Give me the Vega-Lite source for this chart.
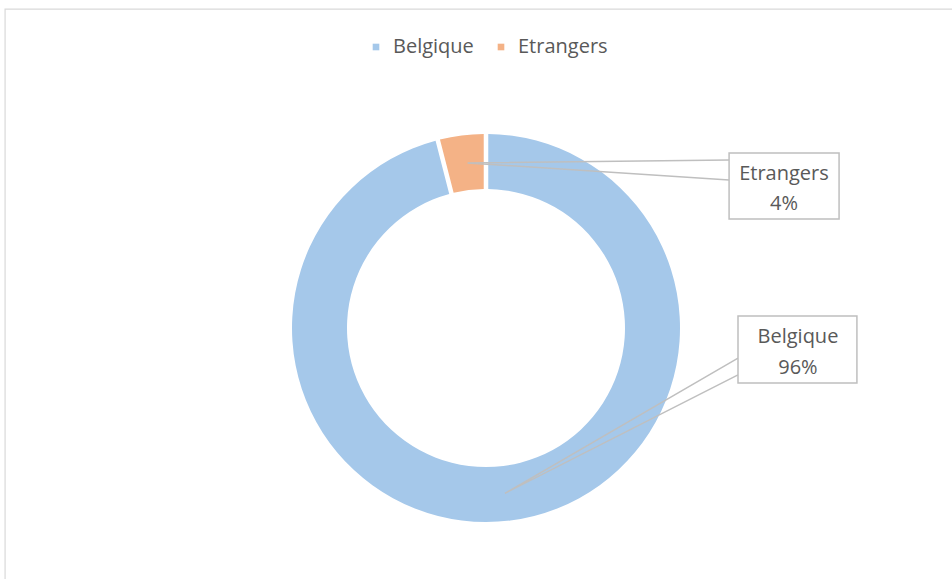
{
  "$schema": "https://vega.github.io/schema/vega-lite/v6.json",
  "width": 952,
  "height": 579,
  "autosize": "none",
  "padding": 0,
  "background": "white",
  "config": {"view": {"stroke": null}, "font": "Open Sans"},
  "datasets": {
    "shares": [
      {"category": "Belgique", "value": 96},
      {"category": "Etrangers", "value": 4}
    ],
    "callouts": [
      {"category": "Etrangers", "pct": "4%", "px": -9.5, "py": 85.1, "bx1": 125.3, "bx2": 182.0, "by1": 90.2, "by2": 56.2, "ey1": 86.6, "ey2": 76.3, "tx": 153.6, "ty1": 76.3, "ty2": 60.8},
      {"category": "Belgique", "pct": "96%", "px": 9.8, "py": -85.2, "bx1": 129.9, "bx2": 191.2, "by1": 6.2, "by2": -28.4, "ey1": -15.5, "ey2": -24.2, "tx": 160.8, "ty1": -7.7, "ty2": -23.7}
    ],
    "wedges": [
      {"category": "Etrangers", "order": 0, "x": 125.3, "y": 86.6},
      {"category": "Etrangers", "order": 1, "x": -9.5, "y": 85.1},
      {"category": "Etrangers", "order": 2, "x": 125.3, "y": 76.3},
      {"category": "Belgique", "order": 0, "x": 129.9, "y": -15.5},
      {"category": "Belgique", "order": 1, "x": 9.8, "y": -85.2},
      {"category": "Belgique", "order": 2, "x": 129.9, "y": -24.2}
    ]
  },
  "layer": [
    {
      "data": {"values": [{"x": -247.9, "x2": 300, "y": 164.4, "y2": -200}]},
      "mark": {"type": "rect", "fill": null, "stroke": "#D9D9D9", "strokeWidth": 1.2, "clip": true},
      "encoding": {
        "x": {"field": "x", "type": "quantitative", "scale": {"domain": [-250.52, 240.21], "nice": false, "zero": false}, "axis": null},
        "x2": {"field": "x2"},
        "y": {"field": "y", "type": "quantitative", "scale": {"domain": [-129.38, 169.07], "nice": false, "zero": false}, "axis": null},
        "y2": {"field": "y2"}
      }
    },
    {
      "data": {"name": "shares"},
      "mark": {"type": "arc", "outerRadius": 194, "innerRadius": 139, "padAngle": 0.019},
      "encoding": {
        "x": {"datum": 0, "type": "quantitative"},
        "y": {"datum": 0, "type": "quantitative"},
        "theta": {"field": "value", "type": "quantitative", "stack": true},
        "color": {
          "field": "category", "type": "nominal",
          "scale": {"domain": ["Belgique", "Etrangers"], "range": ["#A5C8EA", "#F4B286"]},
          "legend": {
            "orient": "none", "legendX": 366, "legendY": 37, "direction": "horizontal",
            "title": null, "symbolType": "square", "symbolSize": 44, "symbolStrokeWidth": 0,
            "labelFont": "Open Sans", "labelFontSize": 20, "labelColor": "#595959",
            "labelOffset": 7, "columnPadding": 17
          }
        },
        "order": {"field": "category"}
      }
    },
    {
      "data": {"name": "wedges"},
      "mark": {"type": "line", "stroke": "#BFBFBF", "strokeWidth": 1.5},
      "encoding": {
        "x": {"field": "x", "type": "quantitative"},
        "y": {"field": "y", "type": "quantitative"},
        "detail": {"field": "category"},
        "order": {"field": "order"}
      }
    },
    {
      "data": {"name": "callouts"},
      "mark": {"type": "rect", "fill": "white", "stroke": "#BFBFBF", "strokeWidth": 1.5},
      "encoding": {
        "x": {"field": "bx1", "type": "quantitative"},
        "x2": {"field": "bx2"},
        "y": {"field": "by1", "type": "quantitative"},
        "y2": {"field": "by2"}
      }
    },
    {
      "data": {"name": "callouts"},
      "mark": {"type": "text", "font": "Open Sans", "fontSize": 20, "color": "#595959", "align": "center", "baseline": "alphabetic"},
      "encoding": {
        "x": {"field": "tx", "type": "quantitative"},
        "y": {"field": "ty1", "type": "quantitative"},
        "text": {"field": "category"}
      }
    },
    {
      "data": {"name": "callouts"},
      "mark": {"type": "text", "font": "Open Sans", "fontSize": 20, "color": "#595959", "align": "center", "baseline": "alphabetic"},
      "encoding": {
        "x": {"field": "tx", "type": "quantitative"},
        "y": {"field": "ty2", "type": "quantitative"},
        "text": {"field": "pct"}
      }
    }
  ]
}
